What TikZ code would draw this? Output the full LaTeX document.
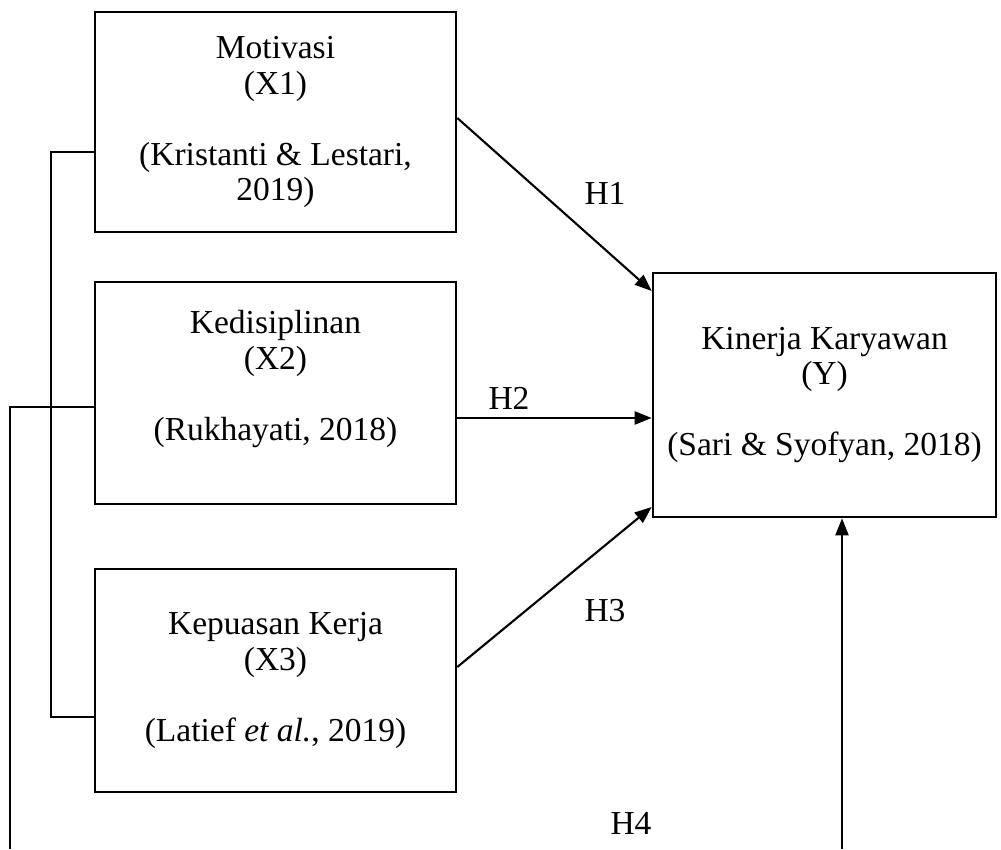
\documentclass[tikz,border=0pt]{standalone}
\usepackage{fontspec}
\setmainfont{Liberation Serif}
\usetikzlibrary{arrows.meta}
\tikzset{
  varbox/.style={draw=black,line width=2.6pt,inner sep=0pt,align=center,
    font=\fontsize{33.5}{35.5}\selectfont},
  hlabel/.style={font=\fontsize{33.5}{35.5}\selectfont},
  link/.style={draw=black,line width=2.1pt},
  effect/.style={link,-{Triangle[length=17pt,width=13pt]}}
}

\begin{document}
\begin{tikzpicture}[x=1pt,y=1pt,line cap=butt,line join=miter]
\useasboundingbox (0,0) rectangle (1001,849);
% independent variables
\node[varbox,minimum width=361pt,minimum height=220pt] (x1) at (275.5,727)
  {Motivasi\\(X1)\\[35.5pt](Kristanti \& Lestari,\\2019)};
\node[varbox,minimum width=361pt,minimum height=222pt] (x2) at (275.5,456)
  {Kedisiplinan\\(X2)\\[35.5pt](Rukhayati, 2018)\\\mbox{}};
\node[varbox,minimum width=361pt,minimum height=223pt] (x3) at (275.5,168.5)
  {Kepuasan Kerja\\(X3)\\[35.5pt](Latief \textit{et al.}, 2019)};
% dependent variable
\node[varbox,minimum width=343pt,minimum height=244pt] (y) at (824.5,454)
  {Kinerja Karyawan\\(Y)\\[35.5pt](Sari \& Syofyan, 2018)};
% bracket joining X1..X3
\draw[link] ([yshift=-30pt]x1.west) -- ++(-43,0) |- ([yshift=-36.5pt]x3.west);
% simultaneous line to X2
\coordinate (sim) at (10,0);
\draw[link] (sim) |- ([yshift=-14pt]x2.west);
% partial effects
\draw[effect] ([yshift=4pt]x1.east) -- ([yshift=104pt]y.west);
\draw[effect] ([yshift=-25pt]x2.east) -- ([yshift=-25pt]x2.east -| y.west);
\draw[effect] ([yshift=13.5pt]x3.east) -- ([yshift=-112pt]y.west);
\coordinate (h4from) at (842,0);
\draw[effect] (h4from) -- (h4from |- y.south);
% hypothesis labels
\node[hlabel] (h1) at (605,656) {H1};
\node[hlabel] (h2) at (509,451) {H2};
\node[hlabel] (h3) at (605,238) {H3};
\node[hlabel] (h4) at (631,26) {H4};
\end{tikzpicture}
\end{document}
